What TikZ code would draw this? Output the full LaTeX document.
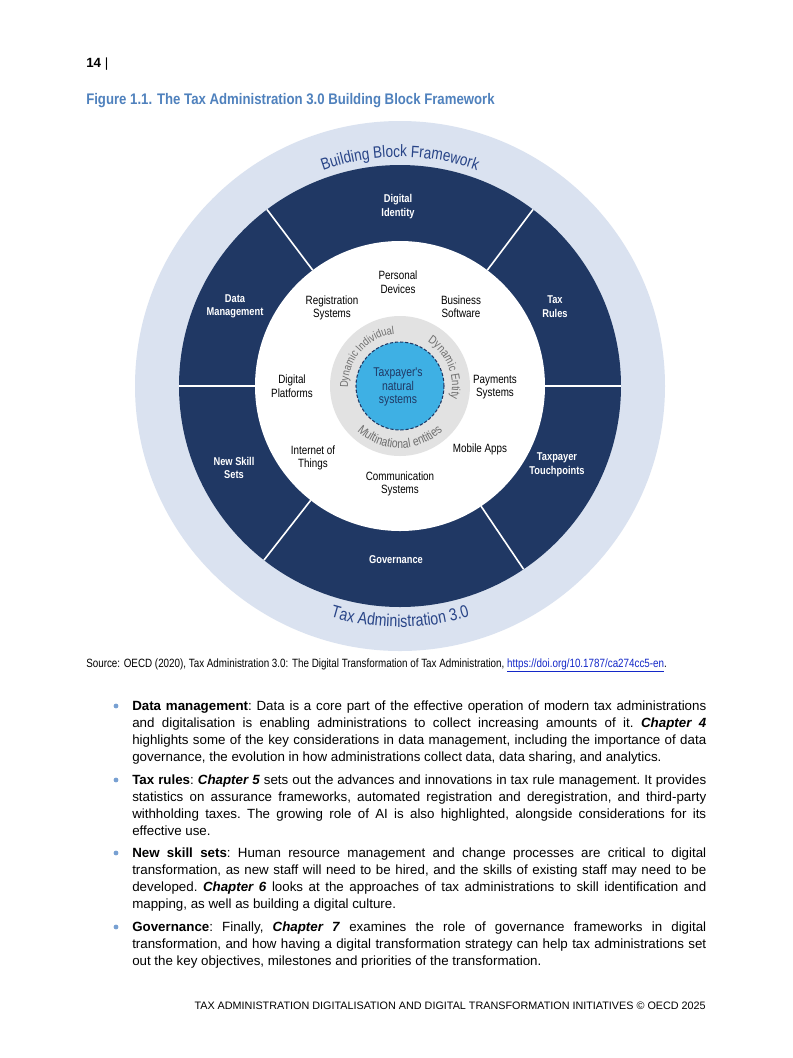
\documentclass[tikz,border=0pt]{standalone}
\usepackage{fontspec}
\setmainfont{Liberation Sans}
\newfontfamily\narrowfont[FakeStretch=0.82]{Liberation Sans}
\newfontfamily\titlefont[FakeStretch=0.86]{Liberation Sans}
\usetikzlibrary{decorations.text}
\definecolor{navy}{RGB}{32,56,100}
\definecolor{lightring}{RGB}{218,226,240}
\definecolor{grayring}{RGB}{226,226,226}
\definecolor{bluec}{RGB}{62,176,228}
\definecolor{ringtext}{RGB}{40,68,135}
\definecolor{graytext}{RGB}{110,110,110}
\definecolor{titleblue}{RGB}{79,129,189}
\definecolor{bulletblue}{RGB}{120,160,210}
\definecolor{linkblue}{RGB}{20,40,200}
\newcommand\ringfontA{\narrowfont\fontsize{12.4}{15}\selectfont}
\newcommand\ringfontB{\narrowfont\fontsize{13}{15}\selectfont}
\newcommand\grayfontA{\narrowfont\fontsize{8.5}{10}\selectfont}
\newcommand\grayfontB{\narrowfont\fontsize{9}{11}\selectfont}
\newcommand\grayfontC{\narrowfont\fontsize{9.5}{11}\selectfont}
\begin{document}
\begin{tikzpicture}[x=0.75pt,y=0.75pt,
  seglabel/.style={text=white, font=\narrowfont\bfseries\fontsize{8.5}{10.1}\selectfont, align=center, inner sep=0pt},
  innerlabel/.style={text=black, font=\narrowfont\fontsize{9}{10.1}\selectfont, align=center, inner sep=0pt},
  centerlabel/.style={text=navy, font=\narrowfont\fontsize{9.5}{10.1}\selectfont, align=center, inner sep=0pt},
  divider/.style={white, line width=1.2pt},
  bullettext/.style={anchor=north west, inner sep=0pt, text width=430.5pt, align=justify, font=\frenchspacing\fontsize{10}{12.75}\selectfont},
  bulletdot/.style={circle, fill=bulletblue, inner sep=0pt, minimum size=3.6pt},
  curvetext/.style={decorate, decoration={text along path, text align=center, text color=#1}}
]
\fill[white] (0,0) rectangle (793,-1058);
\useasboundingbox (0,0) rectangle (793,-1058);

% header
\node[anchor=base west, inner sep=0pt, font=\fontsize{10}{12}\selectfont] (pagenum) at (86,-67) {\textbf{14} |};
\node[anchor=base west, inner sep=0pt, text=titleblue, font=\titlefont\bfseries\fontsize{11.5}{13}\selectfont] (title) at (86,-104) {Figure 1.1. The Tax Administration 3.0 Building Block Framework};

% diagram
\begin{scope}[shift={(400,-386)}]
\fill[lightring] (0,0) circle (265);
\fill[navy] (0,0) circle (221);
\fill[white] (0,0) circle (145);
\foreach \a in {0,53,127,180,232,304} \draw[divider] (\a:145) -- (\a:221);
\fill[grayring] (0,0) circle (70);
\draw[navy, dash pattern=on 2.4pt off 1.4pt, fill=bluec, line width=0.8pt] (0,0) circle (44);

\path[curvetext=ringtext, decoration={text={|\ringfontA|Building Block Framework}}] (160:229) arc (160:20:229);
\path[curvetext=ringtext, decoration={text={|\ringfontB|Tax Administration 3.0}}] (200:241) arc (200:340:241);
\path[curvetext=graytext, decoration={text={|\grayfontA|Dynamic Individual}}] (200:52) arc (200:78:52);
\path[curvetext=graytext, decoration={text={|\grayfontB|Dynamic Entity}}] (80:52) arc (80:-36:52);
\path[curvetext=graytext, decoration={text={|\grayfontC|Multinational entities}}] (190:62) arc (190:350:62);

\node[seglabel] (digid) at (-2,179.5) {Digital\\Identity};
\node[seglabel] (datamgmt) at (-165,79.5) {Data\\Management};
\node[seglabel] (taxrules) at (155,79.5) {Tax\\Rules};
\node[seglabel] (newskill) at (-166,-82) {New Skill\\Sets};
\node[seglabel] (touch) at (157,-79) {Taxpayer\\Touchpoints};
\node[seglabel] (gov) at (-4,-174) {Governance};

\node[innerlabel] (personal) at (-2,104) {Personal\\Devices};
\node[innerlabel] (regsys) at (-68,78) {Registration\\Systems};
\node[innerlabel] (bizsoft) at (61,79.5) {Business\\Software};
\node[innerlabel] (digplat) at (-108,0) {Digital\\Platforms};
\node[innerlabel] (paysys) at (95,-1) {Payments\\Systems};
\node[innerlabel] (iot) at (-87,-72) {Internet of\\Things};
\node[innerlabel] (mobile) at (80,-63) {Mobile Apps};
\node[innerlabel] (comsys) at (0,-98) {Communication\\Systems};
\node[centerlabel] (natural) at (-2,-1) {Taxpayer's\\natural\\systems};
\end{scope}

% source
\node[anchor=base west, inner sep=0pt, font=\narrowfont\fontsize{9}{10}\selectfont] (source) at (86,-667) {Source: OECD (2020), Tax Administration 3.0: The Digital Transformation of Tax Administration, \textcolor{linkblue}{\underline{https://doi.org/10.1787/ca274cc5-en}}.};

% bullets
\node[bulletdot] (dot1) at (116,-706) {};
\node[bullettext] (bul1) at (132,-700.3) {\hyphenpenalty=10000
\textbf{Data management}: Data is a core part of the effective operation of modern tax administrations\linebreak
and digitalisation is enabling administrations to collect increasing amounts of it. \textbf{\textit{Chapter 4}}\linebreak
highlights some of the key considerations in data management, including the importance of data\linebreak
governance, the evolution in how administrations collect data, data sharing, and analytics.};

\node[bulletdot] (dot2) at (116,-780) {};
\node[bullettext] (bul2) at (132,-774.3) {\hyphenpenalty=10000
\textbf{Tax rules}: \textbf{\textit{Chapter 5}} sets out the advances and innovations in tax rule management. It provides\linebreak
statistics on assurance frameworks, automated registration and deregistration, and third-party\linebreak
withholding taxes. The growing role of AI is also highlighted, alongside considerations for its\linebreak
effective use.};

\node[bulletdot] (dot3) at (116,-853) {};
\node[bullettext] (bul3) at (132,-847.3) {\hyphenpenalty=10000
\textbf{New skill sets}: Human resource management and change processes are critical to digital\linebreak
transformation, as new staff will need to be hired, and the skills of existing staff may need to be\linebreak
developed. \textbf{\textit{Chapter 6}} looks at the approaches of tax administrations to skill identification and\linebreak
mapping, as well as building a digital culture.};

\node[bulletdot] (dot4) at (116,-927) {};
\node[bullettext] (bul4) at (132,-921.3) {\hyphenpenalty=10000
\textbf{Governance}: Finally, \textbf{\textit{Chapter 7}} examines the role of governance frameworks in digital\linebreak
transformation, and how having a digital transformation strategy can help tax administrations set\linebreak
out the key objectives, milestones and priorities of the transformation.};

% footer
\node[anchor=base east, inner sep=0pt, font=\fontsize{8.1}{9}\selectfont] (footer) at (706,-1009) {TAX ADMINISTRATION DIGITALISATION AND DIGITAL TRANSFORMATION INITIATIVES \textcopyright{} OECD 2025};
\end{tikzpicture}
\end{document}
